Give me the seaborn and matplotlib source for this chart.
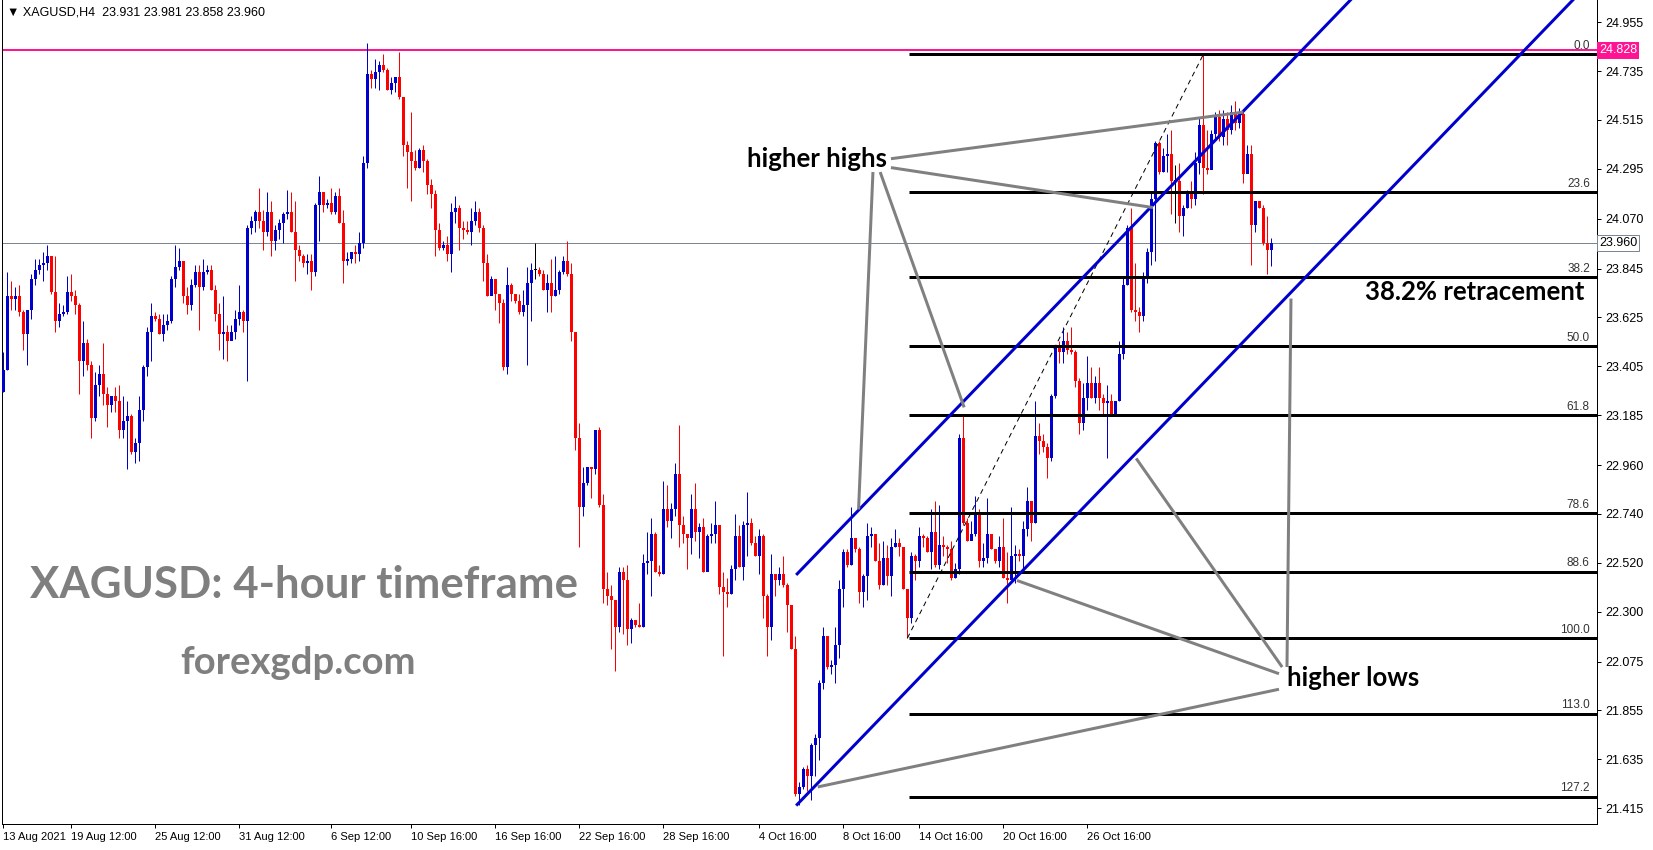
import numpy as np
import pandas as pd
import matplotlib
matplotlib.use("Agg")
import matplotlib.pyplot as plt
import matplotlib.transforms as mtransforms
import seaborn as sns

# ---- XAGUSD H4 candles (open = previous close) ----
first_open = 23.29
closes = [
    23.39, 23.72, 23.71, 23.72, 23.65, 23.55, 23.66, 23.80, 23.84, 23.86,
    23.87, 23.90, 23.74, 23.61, 23.64, 23.65, 23.74, 23.72, 23.68, 23.43,
    23.51, 23.41, 23.17, 23.32, 23.37, 23.28, 23.23, 23.27, 23.25, 23.12,
    23.16, 23.18, 23.02, 23.06, 23.21, 23.40, 23.56, 23.63, 23.62, 23.55,
    23.59, 23.61, 23.80, 23.85, 23.88, 23.72, 23.68, 23.77, 23.83, 23.76,
    23.83, 23.84, 23.75, 23.64, 23.55, 23.56, 23.52, 23.56, 23.62, 23.65,
    23.61, 24.03, 24.06, 24.10, 24.06, 24.01, 24.10, 23.97, 24.02, 24.05,
    24.09, 24.10, 24.01, 23.93, 23.90, 23.87, 23.88, 23.83, 24.13, 24.19,
    24.13, 24.14, 24.10, 24.17, 24.05, 23.88, 23.89, 23.92, 23.91, 23.96,
    24.32, 24.72, 24.70, 24.73, 24.76, 24.74, 24.65, 24.68, 24.71, 24.62,
    24.40, 24.37, 24.33, 24.30, 24.38, 24.33, 24.22, 24.18, 24.02, 23.94,
    23.95, 23.91, 24.10, 24.12, 24.03, 24.02, 24.01, 24.06, 24.10, 24.03,
    23.87, 23.72, 23.80, 23.73, 23.69, 23.40, 23.77, 23.73, 23.70, 23.65,
    23.68, 23.78, 23.84, 23.84, 23.82, 23.75, 23.78, 23.72, 23.75, 23.83,
    23.88, 23.82, 23.56, 23.08, 22.77, 22.88, 22.95, 22.94, 23.12, 22.78,
    22.40, 22.37, 22.35, 22.23, 22.48, 22.44, 22.22, 22.26, 22.24, 22.23,
    22.52, 22.53, 22.65, 22.48, 22.47, 22.76, 22.71, 22.76, 22.92, 22.69,
    22.65, 22.63, 22.76, 22.66, 22.68, 22.48, 22.64, 22.65, 22.69, 22.41,
    22.39, 22.38, 22.49, 22.64, 22.50, 22.69, 22.70, 22.61, 22.55, 22.64,
    22.37, 22.23, 22.47, 22.44, 22.47, 22.42, 22.33, 22.13, 21.48, 21.51,
    21.59, 21.56, 21.70, 21.73, 21.98, 22.19, 22.05, 22.06, 22.15, 22.40,
    22.57, 22.51, 22.63, 22.58, 22.39, 22.46, 22.64, 22.65, 22.53, 22.42,
    22.54, 22.46, 22.59, 22.61, 22.59, 22.40, 22.27, 22.55, 22.53, 22.64,
    22.63, 22.57, 22.66, 22.51, 22.60, 22.59, 22.58, 22.45, 22.49, 23.08,
    22.70, 22.62, 22.65, 22.74, 22.53, 22.54, 22.65, 22.58, 22.53, 22.59,
    22.45, 22.44, 22.55, 22.56, 22.55, 22.67, 22.80, 22.70, 23.09, 23.07,
    23.04, 22.99, 23.27, 23.49, 23.47, 23.52, 23.48, 23.47, 23.34, 23.15,
    23.26, 23.33, 23.26, 23.33, 23.26, 23.24, 23.25, 23.19, 23.25, 23.46,
    23.77, 24.03, 23.66, 23.65, 23.63, 23.81, 23.92, 24.16, 24.41, 24.28,
    24.35, 24.36, 24.24, 24.24, 24.08, 24.12, 24.18, 24.16, 24.32, 24.49,
    24.30, 24.29, 24.45, 24.53, 24.44, 24.52, 24.47, 24.55, 24.50, 24.54,
    24.27, 24.36, 24.04, 24.15, 24.12, 23.96, 23.931, 23.960,
]
highs = [
    23.47, 23.83, 23.79, 23.76, 23.77, 23.66, 23.66, 23.82, 23.89, 23.89,
    23.92, 23.95, 23.90, 23.90, 23.69, 23.68, 23.81, 23.82, 23.75, 23.69,
    23.61, 23.53, 23.43, 23.38, 23.41, 23.51, 23.31, 23.27, 23.31, 23.32,
    23.27, 23.25, 23.19, 23.08, 23.27, 23.41, 23.58, 23.69, 23.65, 23.64,
    23.64, 23.64, 23.81, 23.95, 23.94, 23.85, 23.76, 23.80, 23.86, 23.86,
    23.89, 23.86, 23.86, 23.77, 23.69, 23.72, 23.59, 23.59, 23.66, 23.77,
    23.66, 24.04, 24.08, 24.11, 24.21, 24.11, 24.19, 24.15, 24.04, 24.07,
    24.10, 24.20, 24.19, 24.15, 23.95, 23.91, 23.91, 23.91, 24.14, 24.26,
    24.19, 24.16, 24.21, 24.19, 24.21, 24.11, 23.92, 23.92, 23.95, 24.01,
    24.35, 24.86, 24.74, 24.79, 24.78, 24.81, 24.75, 24.71, 24.71, 24.82,
    24.62, 24.42, 24.55, 24.38, 24.39, 24.40, 24.34, 24.25, 24.20, 24.05,
    23.97, 23.99, 24.14, 24.17, 24.13, 24.06, 24.06, 24.12, 24.15, 24.12,
    24.04, 23.91, 23.81, 23.80, 23.73, 23.71, 23.85, 23.78, 23.73, 23.73,
    23.75, 23.85, 23.87, 23.96, 23.85, 23.84, 23.82, 23.89, 23.90, 23.84,
    23.90, 23.97, 23.87, 23.56, 23.15, 22.95, 22.95, 22.95, 23.12, 23.13,
    22.83, 22.48, 22.42, 22.35, 22.50, 22.50, 22.51, 22.27, 22.26, 22.34,
    22.56, 22.66, 22.72, 22.66, 22.51, 22.89, 22.87, 22.79, 22.97, 23.14,
    22.73, 22.65, 22.83, 22.88, 22.70, 22.72, 22.65, 22.70, 22.80, 22.69,
    22.48, 22.45, 22.51, 22.74, 22.69, 22.71, 22.84, 22.72, 22.64, 22.67,
    22.65, 22.38, 22.56, 22.47, 22.50, 22.55, 22.43, 22.33, 22.19, 21.53,
    21.60, 21.61, 21.71, 21.75, 21.99, 22.23, 22.19, 22.08, 22.23, 22.44,
    22.58, 22.58, 22.77, 22.63, 22.59, 22.47, 22.70, 22.68, 22.65, 22.61,
    22.62, 22.60, 22.63, 22.67, 22.63, 22.59, 22.40, 22.57, 22.56, 22.68,
    22.65, 22.64, 22.76, 22.80, 22.78, 22.64, 22.60, 22.62, 22.52, 23.10,
    23.19, 22.72, 22.71, 22.82, 22.76, 22.61, 22.81, 22.65, 22.57, 22.64,
    22.72, 22.57, 22.77, 22.60, 22.58, 22.71, 22.86, 22.80, 23.25, 23.15,
    23.10, 23.06, 23.28, 23.50, 23.52, 23.58, 23.56, 23.58, 23.48, 23.35,
    23.33, 23.45, 23.40, 23.36, 23.40, 23.28, 23.32, 23.28, 23.25, 23.52,
    23.81, 24.04, 24.12, 23.87, 23.67, 23.83, 23.94, 24.19, 24.42, 24.42,
    24.39, 24.45, 24.47, 24.31, 24.32, 24.13, 24.20, 24.24, 24.37, 24.53,
    24.81, 24.47, 24.47, 24.55, 24.56, 24.56, 24.55, 24.58, 24.60, 24.57,
    24.55, 24.40, 24.40, 24.15, 24.15, 24.13, 24.08, 23.981,
]
lows = [
    23.29, 23.39, 23.66, 23.66, 23.63, 23.48, 23.41, 23.62, 23.77, 23.82,
    23.79, 23.84, 23.73, 23.56, 23.58, 23.63, 23.64, 23.70, 23.64, 23.28,
    23.36, 23.39, 23.08, 23.16, 23.27, 23.23, 23.13, 23.20, 23.20, 23.08,
    23.08, 22.94, 23.01, 22.97, 22.98, 23.16, 23.36, 23.43, 23.61, 23.55,
    23.52, 23.57, 23.60, 23.76, 23.84, 23.69, 23.64, 23.66, 23.76, 23.57,
    23.75, 23.82, 23.75, 23.61, 23.48, 23.44, 23.43, 23.54, 23.53, 23.59,
    23.56, 23.34, 24.00, 24.01, 24.03, 23.93, 23.99, 23.90, 23.93, 23.98,
    23.96, 24.07, 24.01, 23.79, 23.88, 23.85, 23.82, 23.75, 23.81, 23.97,
    24.10, 24.12, 24.09, 24.09, 24.05, 23.78, 23.86, 23.87, 23.87, 23.88,
    23.94, 24.30, 24.66, 24.66, 24.65, 24.73, 24.65, 24.63, 24.64, 24.61,
    24.35, 24.21, 24.15, 24.29, 24.30, 24.28, 24.18, 24.12, 23.90, 23.93,
    23.93, 23.88, 23.83, 24.05, 23.93, 23.98, 24.00, 23.95, 24.04, 24.01,
    23.79, 23.72, 23.73, 23.66, 23.60, 23.39, 23.37, 23.70, 23.69, 23.64,
    23.63, 23.41, 23.61, 23.80, 23.81, 23.75, 23.65, 23.65, 23.72, 23.73,
    23.82, 23.81, 23.52, 23.03, 22.59, 22.73, 22.87, 22.81, 22.92, 22.77,
    22.34, 22.33, 22.13, 22.03, 22.21, 22.20, 22.15, 22.16, 22.23, 22.23,
    22.23, 22.47, 22.37, 22.48, 22.46, 22.47, 22.68, 22.63, 22.73, 22.59,
    22.61, 22.49, 22.56, 22.62, 22.54, 22.48, 22.57, 22.61, 22.61, 22.38,
    22.10, 22.32, 22.38, 22.44, 22.50, 22.44, 22.55, 22.60, 22.55, 22.47,
    22.27, 22.10, 22.17, 22.37, 22.42, 22.41, 22.21, 22.13, 21.47, 21.43,
    21.50, 21.49, 21.45, 21.56, 21.63, 21.95, 22.04, 22.02, 21.98, 22.09,
    22.32, 22.50, 22.51, 22.57, 22.34, 22.32, 22.35, 22.59, 22.53, 22.40,
    22.42, 22.42, 22.37, 22.59, 22.55, 22.40, 22.18, 22.25, 22.44, 22.50,
    22.59, 22.57, 22.49, 22.50, 22.49, 22.55, 22.52, 22.44, 22.45, 22.47,
    22.69, 22.62, 22.64, 22.64, 22.50, 22.50, 22.52, 22.58, 22.52, 22.50,
    22.45, 22.34, 22.44, 22.43, 22.53, 22.48, 22.64, 22.62, 22.70, 23.01,
    23.02, 22.90, 22.98, 23.26, 23.42, 23.42, 23.46, 23.46, 23.31, 23.10,
    23.12, 23.21, 23.26, 23.24, 23.21, 23.18, 22.99, 23.18, 23.18, 23.25,
    23.44, 23.77, 23.65, 23.61, 23.56, 23.61, 23.78, 23.86, 23.88, 24.27,
    24.28, 24.28, 24.09, 24.05, 24.01, 23.99, 24.12, 24.12, 24.13, 24.27,
    24.18, 24.27, 24.31, 24.43, 24.42, 24.40, 24.40, 24.45, 24.47, 24.48,
    24.23, 24.28, 23.86, 24.01, 24.12, 23.95, 23.82, 23.858,
]

price_ticks = [24.955, 24.735, 24.515, 24.295, 24.070, 23.845, 23.625, 23.405,
               23.185, 22.960, 22.740, 22.520, 22.300, 22.075, 21.855, 21.635, 21.415]
date_bars = [0, 17, 38, 59, 82, 102, 123, 144, 165, 189, 210, 229, 250, 271]
date_labels = ["13 Aug 2021", "19 Aug 12:00", "25 Aug 12:00", "31 Aug 12:00", "6 Sep 12:00",
               "10 Sep 16:00", "16 Sep 16:00", "22 Sep 16:00", "28 Sep 16:00", "4 Oct 16:00",
               "8 Oct 16:00", "14 Oct 16:00", "20 Oct 16:00", "26 Oct 16:00"]

high_line = 24.828
bid_line = 23.960
fib_levels = [0.0, 23.6, 38.2, 50.0, 61.8, 78.6, 88.6, 100.0, 113.0, 127.2]
fib_low_bar, fib_high_bar = 226, 300

# channel: start bar, upper/lower start prices, slope per bar
channel_start = 198.2
channel_upper0 = 22.465
channel_lower0 = 21.426
channel_slope = 0.01869

# grey annotation segments (bar0, price0, bar1, price1)
hh_lines = [(221.9, 24.34, 310.0, 24.55), (221.9, 24.30, 287.4, 24.12),
            (217.4, 24.28, 213.8, 22.76), (219.2, 24.28, 240.2, 23.22)]
hl_lines = [(319.7, 22.05, 283.2, 22.99), (318.9, 22.02, 253.4, 22.44),
            (318.9, 21.95, 203.6, 21.51), (320.9, 22.05, 321.9, 23.71)]

n = min(len(closes), len(highs), len(lows))
df = pd.DataFrame({"close": closes[:n], "high": highs[:n], "low": lows[:n]})
df["open"] = [first_open] + closes[:n - 1]
df["bar"] = np.arange(n)

sns.set_theme(style="white")
plt.rcParams["font.family"] = ["Liberation Sans", "DejaVu Sans"]

PX = 0.72  # one pixel in points at dpi 100
fig = plt.figure(figsize=(16.53, 8.5), dpi=100)
ax = fig.add_axes([2 / 1653, 26 / 850, 1595 / 1653, 824 / 850])
ax.set_facecolor("white")

up = df["close"] > df["open"] + 1e-9
down = df["close"] < df["open"] - 1e-9
colors = np.where(up, "#0000cc", np.where(down, "#ff0000", "#000000"))

ax.vlines(df["bar"], df["low"], df["high"], colors=colors, linewidth=PX, zorder=3)
body_bottom = np.minimum(df["open"], df["close"])
body_height = np.maximum((df["open"] - df["close"]).abs(), 0.0045)
ax.bar(df["bar"], body_height, bottom=body_bottom, width=0.72, color=colors,
       linewidth=0, zorder=3)

# horizontal reference lines
ax.axhline(high_line, color="#ff1493", linewidth=2 * PX, zorder=2)
ax.axhline(bid_line, color="#7b8794", linewidth=PX, zorder=2)

# fibonacci retracement
fib_hi = highs[fib_high_bar]
fib_lo = lows[fib_low_bar]
xmax = 398.4
blend = mtransforms.blended_transform_factory(ax.transAxes, ax.transData)
for lvl in fib_levels:
    p = fib_hi - lvl / 100 * (fib_hi - fib_lo)
    ax.hlines(p, fib_low_bar + 0.4, xmax, color="black", linewidth=3 * PX, zorder=4)
    ax.text(0.9955, p + 0.012, f"{lvl:.1f}", transform=blend, ha="right", va="bottom",
            fontsize=8.5, color="#333333", zorder=6)
ax.plot([fib_low_bar, fib_high_bar], [fib_lo, fib_hi], color="black", linewidth=PX,
        dashes=(5, 4), zorder=4)

# channel lines
ytop = 25.055
for p0 in (channel_upper0, channel_lower0):
    b1 = channel_start + (ytop + 0.05 - p0) / channel_slope
    ax.plot([channel_start, b1], [p0, p0 + (b1 - channel_start) * channel_slope],
            color="#0000cd", linewidth=3 * PX, zorder=5, solid_capstyle="butt")

for b0, p0, b1, p1 in hh_lines + hl_lines:
    ax.plot([b0, b1], [p0, p1], color="#808080", linewidth=3 * PX, zorder=5,
            solid_capstyle="butt")

label_font = dict(family=["Lato", "DejaVu Sans"], fontweight="bold", zorder=7)
ax.text(185.9, 24.34, "higher highs", fontsize=18.5, color="black", va="center", **label_font)
ax.text(340.4, 23.74, "38.2% retracement", fontsize=18.5, color="black", va="center",
        **label_font)
ax.text(320.9, 22.00, "higher lows", fontsize=18.5, color="black", va="center", **label_font)
ax.text(6.7, 22.42, "XAGUSD: 4-hour timeframe", fontsize=31.5, color="#7f7f7f", va="center",
        **label_font)
ax.text(44.2, 22.07, "forexgdp.com", fontsize=27.5, color="#7f7f7f", va="center", **label_font)

ax.text(0.003, 0.985, "\u25bc XAGUSD,H4  23.931 23.981 23.858 23.960", transform=ax.transAxes,
        ha="left", va="center", fontsize=9, color="black", zorder=7)

# axes styling
ax.set_xlim(-0.325, xmax)
ax.set_ylim(21.343, ytop)
ax.yaxis.tick_right()
ax.set_yticks(price_ticks)
ax.set_yticklabels([f"{t:.3f}" for t in price_ticks])
ax.set_xticks(date_bars)
ax.set_xticklabels(date_labels, ha="left")
ax.tick_params(axis="both", which="both", direction="out", length=4 * PX, width=PX,
               color="black", labelsize=9, labelcolor="black", pad=3,
               left=False, right=True, bottom=True, top=False)
ax.tick_params(axis="x", labelsize=8)
for side in ("left", "right", "bottom"):
    ax.spines[side].set_visible(True)
    ax.spines[side].set_color("black")
    ax.spines[side].set_linewidth(PX)
ax.spines["top"].set_visible(False)
ax.grid(False)

# price tags on the right scale
ax.text(1.0012, high_line, "24.828", transform=blend, ha="left", va="center", fontsize=9,
        color="white", zorder=8, clip_on=False,
        bbox=dict(boxstyle="square,pad=0.18", fc="#ff1493", ec="none"))
ax.text(1.0012, bid_line, "23.960", transform=blend, ha="left", va="center", fontsize=9,
        color="black", zorder=8, clip_on=False,
        bbox=dict(boxstyle="square,pad=0.18", fc="white", ec="#7b8794", lw=PX))

fig.savefig("out.png", dpi=100, facecolor="white")
